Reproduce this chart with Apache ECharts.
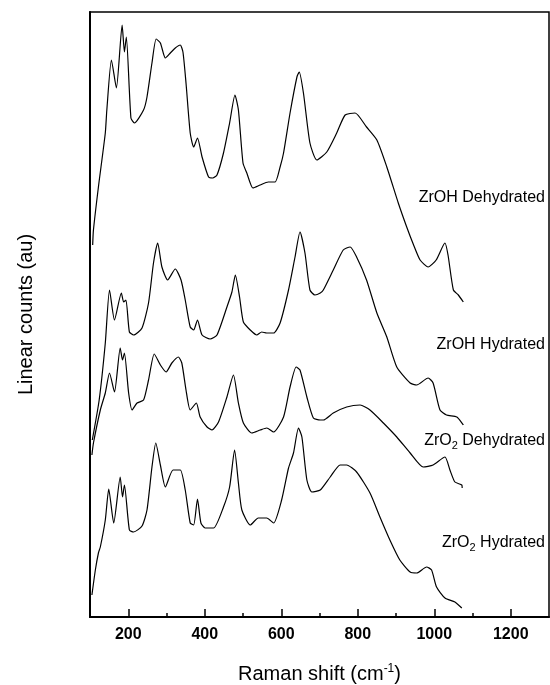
<!DOCTYPE html>
<html>
<head>
<meta charset="utf-8">
<script src="https://cdn.jsdelivr.net/npm/echarts@6/dist/echarts.min.js"></script>
<style>
  html, body { margin: 0; padding: 0; background: #fff; }
  #main { width: 550px; height: 685px; }
</style>
</head>
<body>
<div id="main"></div>
<script>
// spectra: [Raman shift, counts (arbitrary, offset stacked)]
const zrohDehydrated = [
  [107, 372], [109, 387], [122, 430], [140, 484], [144, 507], [156, 557], [169, 529], [184, 592],
  [190, 565], [195, 580], [207, 499], [216, 494], [240, 507], [249, 520], [262, 554], [273, 578],
  [284, 574], [297, 559], [310, 564], [323, 569], [336, 572], [343, 565], [351, 534], [362, 484],
  [371, 470], [381, 479], [393, 460], [410, 440], [421, 439], [432, 442], [449, 464], [465, 494],
  [479, 522], [488, 507], [500, 454], [510, 444], [526, 429], [545, 432], [566, 435], [584, 435],
  [597, 450], [606, 464], [623, 504], [641, 540], [647, 545], [658, 524], [675, 474], [693, 457],
  [719, 465], [745, 484], [767, 502], [793, 504], [823, 490], [850, 477], [876, 450], [906, 414],
  [928, 390], [945, 373], [963, 357], [984, 350], [1005, 357], [1028, 374], [1036, 362], [1050, 327],
  [1063, 322], [1076, 315]
];
const zrohHydrated = [
  [106, 177], [124, 217], [140, 274], [151, 327], [164, 297], [182, 324], [188, 315], [194, 317],
  [203, 285], [214, 282], [236, 289], [253, 314], [266, 354], [277, 374], [288, 350], [303, 337],
  [323, 348], [338, 337], [349, 317], [362, 290], [371, 287], [381, 297], [393, 282], [414, 278],
  [432, 282], [458, 310], [471, 325], [480, 342], [491, 320], [501, 295], [519, 287], [536, 282],
  [549, 285], [562, 284], [580, 284], [597, 294], [619, 327], [636, 360], [649, 385], [662, 364],
  [675, 327], [688, 322], [702, 324], [710, 327], [736, 347], [762, 367], [780, 370], [797, 360],
  [823, 337], [850, 304], [876, 280], [902, 250], [937, 234], [954, 232], [984, 239], [997, 234],
  [1015, 207], [1032, 202], [1059, 200], [1076, 192]
];
const zro2Dehydrated = [
  [105, 162], [109, 174], [127, 207], [140, 224], [151, 244], [164, 225], [179, 269], [185, 257],
  [190, 264], [201, 224], [210, 207], [223, 214], [240, 217], [253, 237], [268, 263], [284, 252],
  [299, 245], [314, 254], [331, 260], [340, 254], [351, 227], [362, 207], [378, 214], [388, 200],
  [406, 190], [419, 187], [436, 195], [458, 220], [475, 242], [488, 214], [501, 194], [523, 184],
  [545, 187], [562, 189], [580, 185], [606, 200], [623, 230], [639, 250], [649, 247], [667, 220],
  [684, 199], [702, 197], [710, 197], [736, 204], [771, 210], [806, 212], [832, 207], [867, 194],
  [902, 180], [937, 164], [971, 150], [997, 152], [1028, 160], [1041, 147], [1054, 135], [1072, 132],
  [1073, 129]
];
const zro2Hydrated = [
  [105, 22], [114, 47], [122, 64], [127, 70], [140, 97], [149, 128], [162, 94], [179, 140],
  [185, 120], [190, 132], [203, 87], [214, 85], [236, 91], [249, 107], [262, 150], [272, 174],
  [284, 152], [297, 130], [317, 147], [336, 147], [349, 127], [362, 94], [371, 92], [381, 118],
  [390, 94], [401, 89], [423, 89], [449, 110], [465, 130], [478, 167], [488, 134], [497, 107],
  [519, 92], [540, 99], [562, 99], [580, 94], [601, 117], [619, 149], [632, 164], [645, 189],
  [654, 180], [667, 137], [680, 125], [702, 127], [728, 140], [754, 152], [771, 152], [797, 145],
  [832, 124], [858, 100], [884, 77], [910, 57], [937, 45], [954, 44], [980, 50], [993, 47],
  [1006, 30], [1028, 19], [1054, 15], [1072, 9]
];

const seriesNames = ['ZrOH Dehydrated', 'ZrOH Hydrated', 'ZrO{sub|2} Dehydrated', 'ZrO{sub|2} Hydrated'];
const seriesData = [zrohDehydrated, zrohHydrated, zro2Dehydrated, zro2Hydrated];
const majorTicks = [200, 400, 600, 800, 1000, 1200];
const minorTicks = [300, 500, 700, 900, 1100];

const chart = echarts.init(document.getElementById('main'));
const fontFam = '"Liberation Sans", Arial, sans-serif';

// label placement (right aligned, px)
const labelY = [200, 347, 443, 545];

const option = {
  backgroundColor: '#fff',
  animation: false,
  grid: {
    left: 90, right: 1, top: 12, bottom: 68,
    outerBoundsMode: 'none', containLabel: false,
    show: true, borderColor: '#000', borderWidth: 1.5, backgroundColor: 'transparent'
  },
  xAxis: [
    {
      type: 'value', min: 100, max: 1300,
      name: 'Raman shift (cm{sup|-1})',
      nameLocation: 'middle', nameGap: 46,
      nameTextStyle: {
        fontFamily: fontFam, fontSize: 20, color: '#000',
        rich: { sup: { fontFamily: fontFam, fontSize: 12, verticalAlign: 'top', padding: [0, 0, 10, 0], color: '#000' } }
      },
      axisLine: { show: true, onZero: false, lineStyle: { color: '#000', width: 2 } },
      axisTick: { show: true, inside: true, length: 8, customValues: majorTicks, lineStyle: { color: '#000', width: 1.5 } },
      axisLabel: {
        customValues: majorTicks, margin: 10,
        formatter: function (v) { return String(v); },
        fontFamily: fontFam, fontSize: 16, fontWeight: 'bold', color: '#000'
      },
      splitLine: { show: false }
    },
    {
      type: 'value', min: 100, max: 1300, position: 'bottom',
      axisLine: { show: false },
      axisTick: { show: true, inside: true, length: 4, customValues: minorTicks, lineStyle: { color: '#000', width: 1.5 } },
      axisLabel: { show: false },
      splitLine: { show: false }
    }
  ],
  yAxis: {
    type: 'value', min: 0, max: 605,
    name: 'Linear counts (au)',
    nameLocation: 'middle', nameGap: 54,
    nameTextStyle: { fontFamily: fontFam, fontSize: 20, color: '#000' },
    axisLine: { show: true, lineStyle: { color: '#000', width: 2 } },
    axisTick: { show: false },
    axisLabel: { show: false },
    splitLine: { show: false }
  },
  series: seriesData.map(function (d, i) {
    return {
      type: 'line', name: 'S' + i, data: d, xAxisIndex: 0,
      showSymbol: false, symbol: 'none',
      smooth: 0.2,
      lineStyle: { color: '#000', width: 1.2 }
    };
  }),
  graphic: seriesNames.map(function (n, i) {
    return {
      type: 'text', right: 5, top: labelY[i] - 10,
      style: {
        text: n, fill: '#000', font: '16px ' + fontFam,
        rich: { sub: { fontSize: 11, fill: '#000', padding: [10, 0, 0, 0], fontFamily: fontFam } }
      }
    };
  })
};
chart.setOption(option);
window.onresize = chart.resize;
</script>
</body>
</html>
